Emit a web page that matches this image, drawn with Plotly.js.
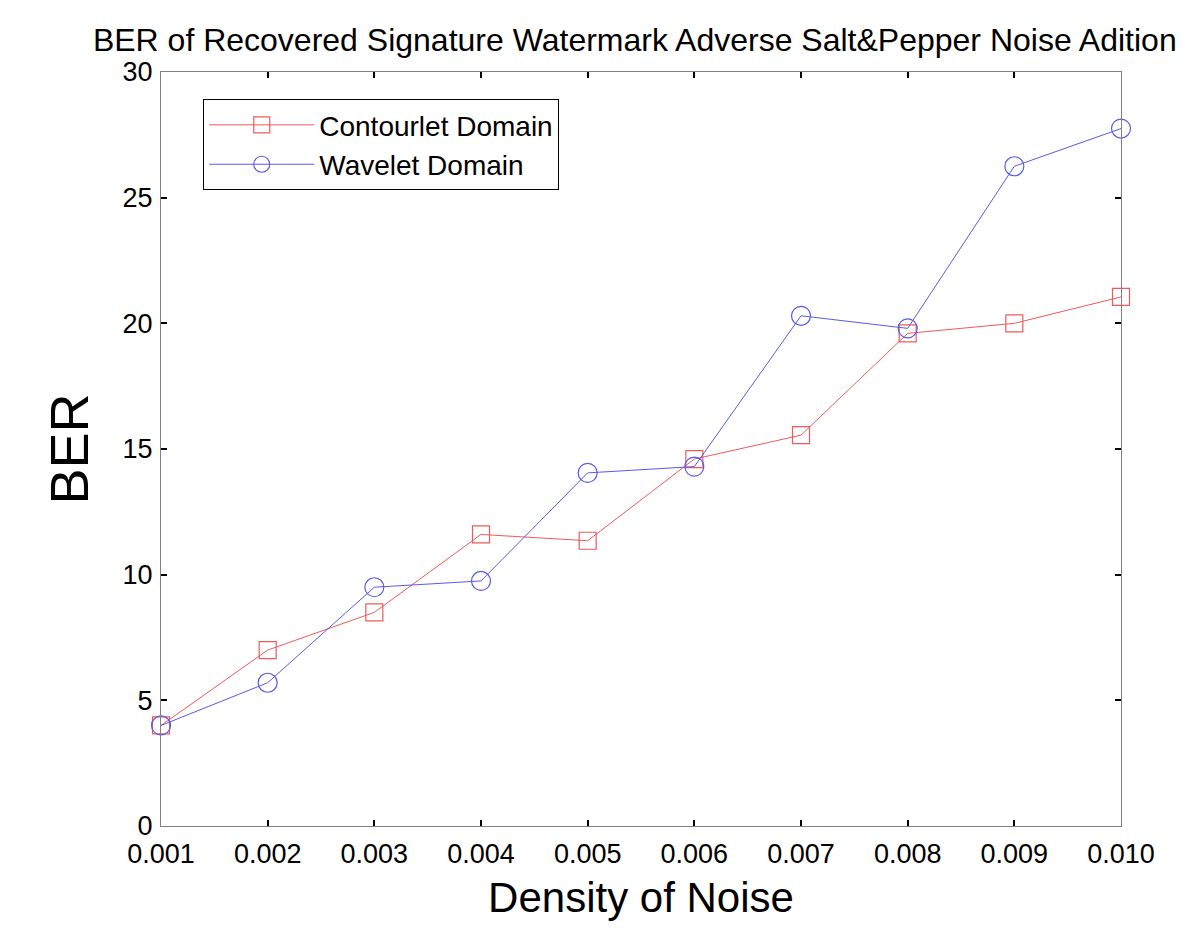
<!DOCTYPE html>
<html>
<head>
<meta charset="utf-8">
<script src="https://cdn.plot.ly/plotly-3.0.1.min.js"></script>
<style>
  body { margin: 0; background: #fff; }
  #chartplot { width: 1200px; height: 950px; }
</style>
</head>
<body>
<div id="chartplot"></div>
<script>
// noise density on the x axis
const density = [0.001, 0.002, 0.003, 0.004, 0.005, 0.006, 0.007, 0.008, 0.009, 0.010];
const tickLabels = ['0.001', '0.002', '0.003', '0.004', '0.005', '0.006', '0.007', '0.008', '0.009', '0.010'];

// BER values
const berContourlet = [4.0, 7.0, 8.5, 11.6, 11.35, 14.6, 15.55, 19.6, 20.0, 21.05];
const berWavelet = [4.0, 5.7, 9.5, 9.75, 14.05, 14.3, 20.3, 19.8, 26.25, 27.75];

const fontFam = '"Liberation Sans", Arial, sans-serif';

const data = [
    {
        type: 'scatter',
        mode: 'lines+markers',
        name: 'Contourlet Domain',
        x: density,
        y: berContourlet,
        line: { color: '#f05a5a', width: 1 },
        marker: { symbol: 'square-open', size: 17, color: '#f05a5a', line: { width: 1.2 } },
        cliponaxis: false,
    },
    {
        type: 'scatter',
        mode: 'lines+markers',
        name: 'Wavelet Domain',
        x: density,
        y: berWavelet,
        line: { color: '#5a5ae6', width: 1 },
        marker: { symbol: 'circle-open', size: 19, color: '#5a5ae6', line: { width: 1.2 } },
        cliponaxis: false,
    },
];

const layout = {
    width: 1200,
    height: 950,
    paper_bgcolor: '#fff',
    plot_bgcolor: '#fff',
    margin: { l: 161, r: 79, t: 72, b: 124 },
    font: { family: fontFam, color: '#000' },
    title: {
        text: 'BER of Recovered Signature Watermark Adverse Salt&Pepper Noise Adition',
        font: { size: 32, family: fontFam },
        x: 0.529, xanchor: 'center',
        y: 0.958, yanchor: 'middle',
    },
    xaxis: {
        range: [0.001, 0.010],
        tickvals: density,
        ticktext: tickLabels,
        ticks: 'inside',
        ticklen: 6,
        tickwidth: 2,
        tickcolor: '#000',
        showline: true,
        linecolor: '#808080',
        linewidth: 1,
        mirror: 'ticks',
        showgrid: false,
        zeroline: false,
        tickfont: { size: 27 },
        ticklabelstandoff: 4,
        title: { text: 'Density of Noise', font: { size: 42 }, standoff: 14 },
    },
    yaxis: {
        range: [0, 30],
        dtick: 5,
        ticks: 'inside',
        ticklen: 6,
        tickwidth: 2,
        tickcolor: '#000',
        showline: true,
        linecolor: '#808080',
        linewidth: 1,
        mirror: 'ticks',
        showgrid: false,
        zeroline: false,
        tickfont: { size: 27 },
        ticklabelstandoff: 2,
        title: { text: 'BER', font: { size: 54 }, standoff: 16 },
    },
    legend: {
        x: 0.044, xanchor: 'left',
        y: 0.964, yanchor: 'top',
        bgcolor: '#fff',
        bordercolor: '#000',
        borderwidth: 1,
        font: { size: 28 },
        itemwidth: 105,
        tracegroupgap: 0,
    },
    showlegend: true,
};

Plotly.newPlot('chartplot', data, layout, { staticPlot: true });
</script>
</body>
</html>
